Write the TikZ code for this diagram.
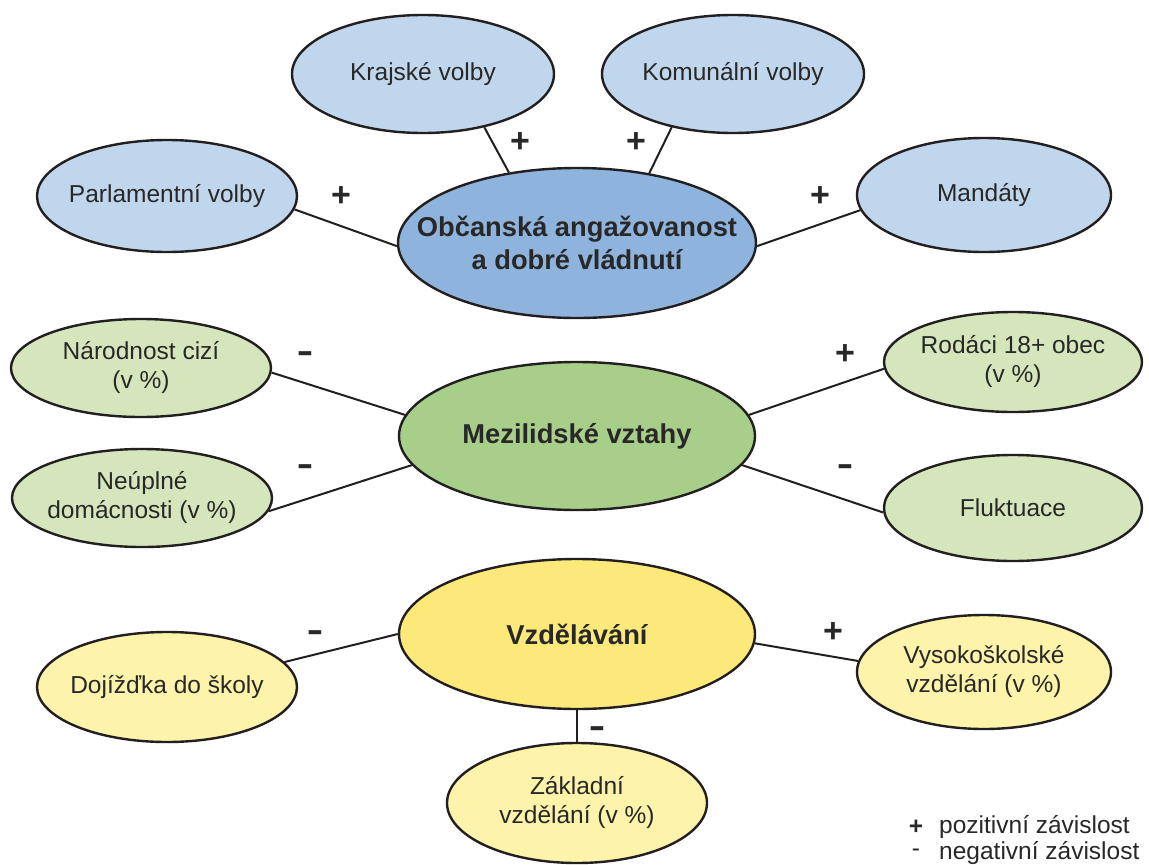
\documentclass[tikz,border=0pt]{standalone}
\usepackage{fontspec}
\setmainfont{Liberation Sans}
\usetikzlibrary{shapes.geometric}
\definecolor{blueL}{RGB}{192,214,236}
\definecolor{blueC}{RGB}{142,180,222}
\definecolor{greenL}{RGB}{213,230,189}
\definecolor{greenC}{RGB}{168,207,138}
\definecolor{yellowL}{RGB}{254,243,170}
\definecolor{yellowC}{RGB}{252,233,122}
\definecolor{lineC}{RGB}{35,31,32}
\definecolor{txtC}{RGB}{40,40,40}
\newcommand{\negsign}{\scalebox{1.45}[1]{-}}
\begin{document}
\begin{tikzpicture}[x=1pt,y=-1pt,
  ell/.style={ellipse, draw=lineC, line width=2.4pt, inner sep=0pt},
  lab/.style={text=txtC, align=center, font=\fontsize{24.5}{29}\selectfont},
  mainlab/.style={text=txtC, align=center, font=\fontsize{27.3}{33}\selectfont\bfseries},
  conn/.style={draw=lineC, line width=2pt},
  sign/.style={text=txtC, inner sep=0pt, font=\fontsize{34}{34}\selectfont\bfseries},
  legtext/.style={text=txtC, inner sep=0pt, font=\fontsize{24.5}{29}\selectfont},
  legsign/.style={text=txtC, inner sep=0pt, font=\fontsize{24.5}{29}\selectfont\bfseries}]
\useasboundingbox[fill=white] (0,0) rectangle (1149,865);

% central nodes
\node[ell, fill=blueC, minimum width=358pt, minimum height=150pt, label={[mainlab]center:{Občanská angažovanost\\a dobré vládnutí}}] (obc) at (577,243) {};
\node[ell, fill=greenC, minimum width=356pt, minimum height=148pt, label={[mainlab]center:{Mezilidské vztahy}}] (mez) at (577,436) {};
\node[ell, fill=yellowC, minimum width=356pt, minimum height=150pt, label={[mainlab]center:{Vzdělávání}}] (vzd) at (577,634) {};

% blue satellites
\node[ell, fill=blueL, minimum width=262pt, minimum height=118pt, label={[lab]center:{Krajské volby}}] (kraj) at (423,74) {};
\node[ell, fill=blueL, minimum width=262pt, minimum height=118pt, label={[lab]center:{Komunální volby}}] (kom) at (733,74) {};
\node[ell, fill=blueL, minimum width=260pt, minimum height=112pt, label={[lab]center:{Parlamentní volby}}] (parl) at (167,196) {};
\node[ell, fill=blueL, minimum width=254pt, minimum height=114pt, label={[lab]center:{Mandáty}}] (mand) at (984,195) {};

% green satellites
\node[ell, fill=greenL, minimum width=260pt, minimum height=98pt, label={[lab]center:{Národnost cizí\\(v \%)}}] (nar) at (141,368) {};
\node[ell, fill=greenL, minimum width=260pt, minimum height=98pt, label={[lab]center:{Neúplné\\domácnosti (v \%)}}] (neu) at (142,498) {};
\node[ell, fill=greenL, minimum width=258pt, minimum height=100pt, label={[lab]center:{Rodáci 18+ obec\\(v \%)}}] (rod) at (1013,362) {};
\node[ell, fill=greenL, minimum width=258pt, minimum height=106pt, label={[lab]center:{Fluktuace}}] (flu) at (1013,508) {};

% yellow satellites
\node[ell, fill=yellowL, minimum width=260pt, minimum height=110pt, label={[lab]center:{Dojížďka do školy}}] (doj) at (167,687) {};
\node[ell, fill=yellowL, minimum width=254pt, minimum height=114pt, label={[lab]center:{Vysokoškolské\\vzdělání (v \%)}}] (vys) at (984,672) {};
\node[ell, fill=yellowL, minimum width=260pt, minimum height=120pt, label={[lab]center:{Základní\\vzdělání (v \%)}}] (zak) at (577,803) {};

% connectors
\draw[conn] (kraj.-41) -- (obc.134);
\draw[conn] (kom.221) -- (obc.44);
\draw[conn] (parl.-6) -- (obc.181);
\draw[conn] (mand.187) -- (obc.-1);
\draw[conn] (nar.-2) -- (mez.173);
\draw[conn] (neu.-6) -- (mez.190);
\draw[conn] (rod.183) -- (mez.7);
\draw[conn] (flu.182) -- (mez.350);
\draw[conn] (doj.12) -- (vzd.180);
\draw[conn] (vys.175) -- (vzd.-3);
\draw[conn] (vzd.-90) -- (zak.90);

% signs
\node[sign] (s1) at (520,143) {+};
\node[sign] (s2) at (636,143) {+};
\node[sign] (s3) at (341,197) {+};
\node[sign] (s4) at (820,197) {+};
\node[sign] (s5) at (305,357) {\negsign};
\node[sign] (s6) at (305,470) {\negsign};
\node[sign] (s7) at (845,355) {+};
\node[sign] (s8) at (845,470) {\negsign};
\node[sign] (s9) at (315,636) {\negsign};
\node[sign] (s10) at (833,633) {+};
\node[sign] (s11) at (597,732) {\negsign};

% legend
\node[legsign] (lp) at (916,827) {+};
\node[legtext, anchor=west] (lt1) at (939,827) {pozitivní závislost};
\node[legtext] (lm) at (916,853) {-};
\node[legtext, anchor=west] (lt2) at (939,853) {negativní závislost};
\end{tikzpicture}
\end{document}
